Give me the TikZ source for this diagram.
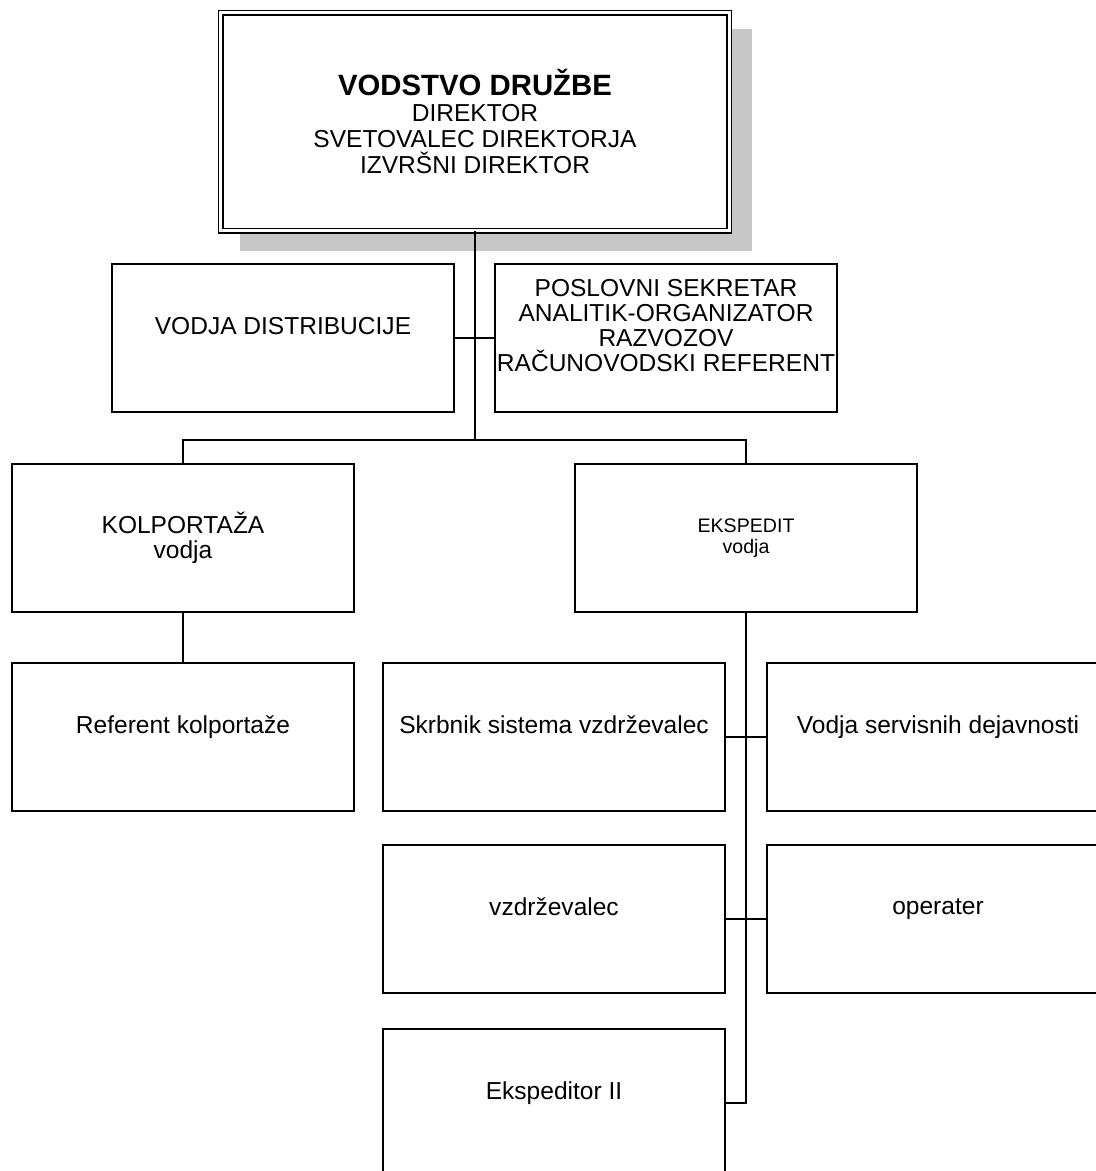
\documentclass[tikz,border=0pt]{standalone}
\usepackage{fontspec}
\setmainfont{Liberation Sans}
\tikzset{
  unit/.style={draw, line width=1pt, fill=white, minimum width=256.5pt, minimum height=111pt,
    inner sep=0pt, align=center, font=\fontsize{18.4}{18.75}\selectfont},
  headbox/.style={draw, double, double distance=2.5pt, line width=0.9pt, fill=white,
    minimum width=381.4pt, minimum height=163.5pt, inner sep=0pt, align=center,
    font=\fontsize{18.4}{19.5}\selectfont},
  wire/.style={line width=1pt},
}
\begin{document}
\begin{tikzpicture}[x=0.75pt,y=-0.75pt]
 \useasboundingbox (0,0) rectangle (1096,1171);
 \clip (0,0) rectangle (1096,1171);
 % shadow of the head box
 \fill[black!22] (240,29) rectangle (752,251);
 \node[headbox] (top) at (475,121.75) {{\bfseries\fontsize{22}{22}\selectfont VODSTVO DRUŽBE}\\DIREKTOR\\SVETOVALEC DIREKTORJA\\IZVRŠNI DIREKTOR};
 % staff
 \node[unit] (dist) at (283,338) {VODJA DISTRIBUCIJE\\\mbox{}};
 \node[unit] (posl) at (666,338) {POSLOVNI SEKRETAR\\ANALITIK-ORGANIZATOR\\RAZVOZOV\\RAČUNOVODSKI REFERENT\\\mbox{}};
 % departments
 \node[unit] (kolp) at (183,538) {KOLPORTAŽA\\vodja};
 \node[unit, font=\fontsize{14.7}{15.75}\selectfont] (eksp) at (746,538) {EKSPEDIT\\vodja};
 \node[unit] (refk) at (183,737) {Referent kolportaže\\\mbox{}};
 \node[unit] (skrb) at (554,737) {Skrbnik sistema vzdrževalec\\\mbox{}};
 \node[unit] (serv) at (938,737) {Vodja servisnih dejavnosti\\\mbox{}};
 \node[unit] (vzdr) at (554,919) {vzdrževalec\\\mbox{}};
 \node[unit] (oper) at (938,919) {operater\\\mbox{}};
 \node[unit] (eks2) at (554,1103) {Ekspeditor II\\\mbox{}};
 \coordinate (bus) at (475,440);
 % connectors
 \draw[wire] (top.south) -- (bus);
 \draw[wire] (dist.east) -- (posl.west);
 \draw[wire] (kolp.north) |- (bus) -| (eksp.north);
 \draw[wire] (kolp.south) -- (refk.north);
 \draw[wire] (eksp.south) |- (eks2.east);
 \draw[wire] (skrb.east) -- (serv.west);
 \draw[wire] (vzdr.east) -- (oper.west);
\end{tikzpicture}
\end{document}
